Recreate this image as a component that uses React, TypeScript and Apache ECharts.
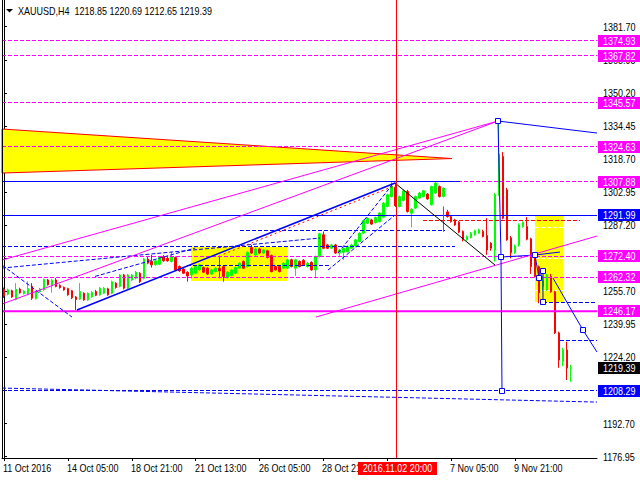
import React, { useEffect, useRef } from "react";
import * as echarts from "echarts";

// ---------- data ----------
const CATS = 149;
const openP = [1256.7,1254.3,1256.0,1251.8,1256.7,1254.6,1254.4,1258.0,1252.2,1255.5,1256.4,1261.1,1258.4,1261.1,1258.6,1257.6,1257.0,1256.0,1253.0,1252.0,1254.8,1251.6,1253.0,1255.6,1254.0,1254.8,1256.9,1254.8,1259.6,1258.0,1263.5,1257.2,1261.1,1261.9,1264.3,1261.9,1271.1,1269.9,1268.3,1268.6,1272.2,1271.4,1269.9,1271.8,1267.5,1266.3,1264.8,1263.5,1264.3,1265.9,1267.0,1266.7,1263.9,1265.1,1266.7,1267.5,1262.2,1263.2,1264.3,1266.7,1269.9,1267.5,1276.5,1273.0,1275.9,1273.9,1275.0,1272.7,1267.5,1267.5,1266.7,1266.7,1270.7,1266.7,1269.9,1270.5,1267.5,1269.5,1265.9,1272.2,1282.6,1277.8,1276.2,1277.8,1273.9,1274.3,1274.6,1276.2,1277.3,1279.4,1283.4,1288.1,1289.7,1288.4,1288.9,1291.0,1296.1,1300.8,1305.3,1296.1,1299.0,1303.2,1292.9,1295.3,1300.1,1300.8,1302.0,1296.9,1302.5,1305.6,1300.8,1293.5,1291.3,1289.7,1288.6,1284.2,1280.2,1281.3,1282.6,1283.4,1284.2,1282.3,1278.6,1275.4,1301.7,1319.9,1304.0,1281.2,1274.2,1277.8,1286.6,1286.6,1280.7,1273.0,1267.4,1258.0,1256.4,1262.7,1255.5,1235.9,1222.2,1227.8,1218.85];
const closeP = [1253.5,1256.4,1253.0,1256.7,1255.0,1255.8,1257.0,1252.4,1255.6,1256.8,1261.3,1258.8,1261.0,1258.0,1257.4,1256.4,1254.0,1252.6,1251.8,1255.6,1251.6,1254.8,1255.2,1253.8,1257.2,1257.2,1254.0,1260.3,1257.5,1263.5,1257.2,1263.5,1263.5,1264.8,1260.3,1271.1,1269.1,1268.3,1270.2,1271.8,1270.2,1270.2,1272.2,1265.9,1265.4,1264.3,1263.0,1266.7,1267.5,1268.3,1264.8,1263.9,1265.9,1266.7,1265.4,1262.7,1264.8,1265.9,1267.0,1269.1,1266.7,1274.3,1273.9,1275.9,1273.9,1275.4,1271.8,1265.1,1265.9,1265.1,1269.1,1270.7,1267.5,1270.7,1267.5,1268.3,1269.1,1265.9,1272.2,1283.1,1276.2,1276.2,1277.8,1273.9,1275.4,1276.2,1277.0,1277.8,1280.2,1283.4,1289.4,1290.5,1287.7,1290.8,1293.0,1297.7,1301.7,1305.6,1296.4,1300.8,1303.5,1293.7,1294.8,1300.8,1302.5,1303.6,1299.7,1305.6,1307.2,1300.8,1304.8,1291.3,1288.9,1287.3,1283.9,1280.2,1281.8,1283.4,1284.5,1285.0,1281.8,1275.4,1276.2,1301.7,1321.0,1290.5,1280.2,1274.1,1277.3,1287.3,1288.5,1280.5,1267.4,1262.7,1255.0,1261.0,1263.5,1255.5,1235.9,1223.0,1227.8,1219.2,1219.39];
const lowP = [1252.5,1253.8,1252.6,1251.4,1254.6,1254.2,1254.0,1251.6,1251.8,1255.0,1256.0,1258.4,1255.0,1257.6,1257.0,1256.0,1253.6,1252.0,1246.8,1251.6,1251.2,1251.2,1252.6,1253.4,1253.6,1254.4,1253.6,1254.4,1257.0,1257.6,1256.6,1256.8,1260.6,1261.4,1259.6,1261.4,1268.6,1267.0,1267.9,1268.2,1269.8,1269.8,1269.5,1265.4,1265.0,1263.9,1260.3,1261.9,1263.9,1265.5,1264.4,1263.5,1263.5,1264.7,1261.9,1260.3,1261.8,1262.8,1263.9,1266.3,1266.3,1267.1,1273.5,1272.6,1273.5,1273.5,1271.4,1264.7,1265.5,1264.7,1266.3,1266.3,1267.1,1263.0,1267.1,1267.8,1267.0,1265.5,1261.9,1271.8,1275.8,1275.8,1275.8,1273.5,1272.6,1270.7,1274.2,1275.8,1276.9,1279.0,1283.0,1287.7,1287.3,1288.0,1288.5,1290.6,1295.7,1300.4,1295.9,1295.7,1298.5,1293.2,1286.1,1294.9,1299.7,1300.4,1299.3,1296.5,1302.0,1300.4,1300.4,1290.8,1288.4,1286.9,1283.4,1279.5,1279.8,1280.9,1282.2,1283.0,1281.4,1273.1,1275.0,1269.9,1301.2,1290.0,1279.8,1271.4,1273.5,1277.0,1286.0,1280.0,1264.0,1262.2,1250.0,1256.0,1256.0,1255.0,1235.4,1219.3,1220.0,1213.5,1212.65];
const highP = [1257.5,1257.0,1256.5,1259.6,1257.4,1256.3,1260.5,1259.6,1256.0,1257.3,1261.8,1261.6,1261.6,1262.0,1259.0,1258.0,1257.4,1256.4,1253.4,1259.6,1255.2,1255.2,1255.8,1256.4,1257.8,1257.7,1257.4,1260.8,1260.0,1264.0,1264.0,1264.0,1264.0,1265.4,1264.8,1271.6,1272.0,1273.0,1270.7,1272.4,1273.0,1272.0,1274.5,1272.3,1268.0,1266.8,1265.2,1267.2,1268.0,1268.8,1267.5,1267.2,1266.4,1267.2,1272.7,1268.0,1265.3,1266.4,1267.5,1269.6,1270.4,1274.8,1277.8,1276.5,1276.4,1275.9,1275.5,1273.2,1268.0,1268.0,1269.6,1271.2,1271.2,1271.2,1270.4,1271.0,1269.6,1270.0,1272.7,1283.6,1284.2,1278.3,1278.3,1278.3,1275.9,1276.7,1277.5,1278.3,1280.7,1283.9,1289.9,1291.0,1290.2,1291.3,1293.5,1298.2,1302.2,1307.9,1307.5,1301.3,1304.2,1304.0,1295.3,1301.3,1303.0,1304.0,1302.5,1306.0,1307.7,1306.1,1305.2,1294.5,1291.8,1290.2,1289.1,1284.7,1282.3,1283.9,1285.0,1285.5,1285.0,1290.5,1279.1,1302.5,1337.0,1322.0,1305.0,1282.0,1278.0,1288.0,1289.0,1291.0,1281.2,1273.5,1268.0,1263.0,1264.0,1264.0,1256.0,1236.5,1228.8,1231.7,1220.69];

const xTickIdx = [0, 16, 32, 48, 64, 80, 96, 112, 128];
const xTickText = ["11 Oct 2016", "14 Oct 05:00", "18 Oct 21:00", "21 Oct 13:00", "26 Oct 05:00", "28 Oct 21:00", "2 Nov 13:00", "7 Nov 05:00", "9 Nov 21:00"];
const yTicks = [1176.95, 1192.7, 1208.45, 1224.2, 1239.95, 1255.7, 1271.45, 1287.2, 1302.95, 1318.7, 1334.45, 1350.2, 1365.95, 1381.7];
const Y_MIN = 1176.33;
const Y_MAX = 1394.42;

// horizontal levels
const magentaLevels = [1374.93, 1367.82, 1345.57, 1324.63, 1307.88, 1272.4, 1262.32];
const thickLevel = 1246.17;
const blueLevel = 1291.99;
const tagMagenta = [1374.93, 1367.82, 1345.57, 1324.63, 1307.88, 1272.4, 1262.32, 1246.17];
const tagBlue = [1291.99, 1208.29];

// drawings in (bar index, price)
const triangle = [[-0.5, 1332.98], [112.19, 1318.93], [-0.5, 1312.02]];
const magentaTrend = [[-0.5, 1270.59, 123.71, 1336.79], [-0.5, 1249.63, 123.71, 1336.79], [78.13, 1243.44, 148.5, 1282.02]];
const blueChannel = [18.28, 1246.78, 97.92, 1307.26];
const redDotted = [55, 1273.4, 97.9, 1306.0];
const blackTrend = [97.92, 1307.26, 122.96, 1268.21];
const blueSolidSegs = [[-0.5, 1307.88, 114.19, 1307.88], [123.71, 1336.79, 148.5, 1331.07], [124.46, 1272.02, 132.97, 1272.97], [132.97, 1272.97, 139.23, 1274.4]];
const bluePolyA = [[123.71, 1336.79], [124.46, 1272.02], [124.71, 1208.29]];
const bluePolyB = [[132.97, 1272.97], [133.97, 1262.02], [134.97, 1265.35], [134.97, 1250.58]];
const bluePolyC = [[137.48, 1262.02], [144.99, 1237.25], [148.5, 1226.77]];
const blueSquares = [[123.71, 1336.79], [124.46, 1272.02], [124.71, 1208.29], [132.97, 1272.97], [133.97, 1262.02], [134.97, 1265.35], [134.97, 1250.58], [144.99, 1237.25]];
const blueDashed = [
  [-0.5, 1268.21, 17.03, 1243.44],
  [-0.5, 1277.26, 112.94, 1277.26],
  [-0.5, 1266.78, 79.13, 1281.07],
  [22.8, 1262.8, 47.9, 1276.3],
  [59.1, 1284.88, 110.44, 1284.88],
  [45.83, 1268.21, 81.64, 1268.21],
  [81.14, 1265.83, 97.92, 1292.02],
  [83.64, 1273.92, 97.16, 1306.31],
  [134.97, 1250.58, 148.5, 1250.58],
  [139.23, 1232.49, 148.5, 1232.49],
  [-0.5, 1208.29, 148.5, 1208.29],
  [-0.5, 1209.63, 148.5, 1202.96],
];
const redDashed = [[104.93, 1289.45, 144.24, 1289.45]];
const magentaShort = [[109.94, 1296.12, 109.94, 1284.0]];
const yellowRects = [[46.83, 1276.78, 70.87, 1260.59], [132.97, 1292.02, 139.98, 1250.58]];
const whiteDashes = [[132.97, 1286.2, 139.98, 1286.2], [132.97, 1271.4, 139.98, 1271.4], [132.97, 1256.3, 139.98, 1256.3]];
const crossIdx = 98.17;
const crossText = "2016.11.02 20:00";
const titleText = "XAUUSD,H4  1218.85 1220.69 1212.65 1219.39";

const FONT = "'Liberation Sans', Arial, sans-serif";
const FS = 10;
const SX = 0.9;

export default function App() {
  const ref = useRef<HTMLDivElement>(null);
  useEffect(() => {
    const chart = echarts.init(ref.current!, null, { renderer: "svg" });
    const categories = Array.from({ length: CATS }, (_, i) => String(i));
    const labelMap: Record<number, string> = {};
    xTickIdx.forEach((k, j) => (labelMap[k] = xTickText[j]));
    const candles = openP.map((o, i) => [o, closeP[i], lowP[i], highP[i]]);

    chart.setOption({
      animation: false,
      backgroundColor: "#ffffff",
      grid: { left: 2, right: 43, top: 0, bottom: 22 },
      xAxis: [
        {
          type: "category",
          data: categories,
          boundaryGap: true,
          axisLine: { lineStyle: { color: "#000", width: 1 } },
          axisTick: { show: true, alignWithLabel: true, interval: (i: number) => i in labelMap, length: 3, lineStyle: { color: "#000" } },
          axisLabel: { show: false },
          splitLine: { show: false },
        },
        { type: "value", min: -0.5, max: CATS - 0.5, show: false },
      ],
      yAxis: {
        type: "value",
        position: "right",
        min: Y_MIN,
        max: Y_MAX,
        axisLine: { show: true, lineStyle: { color: "#000" } },
        axisTick: { show: true, customValues: yTicks, length: 3, lineStyle: { color: "#000" } },
        axisLabel: { show: false },
        splitLine: { show: false },
      },
      series: [
        {
          type: "candlestick",
          xAxisIndex: 0,
          yAxisIndex: 0,
          data: candles,
          barWidth: 2,
          z: 3,
          itemStyle: { color: "#00ff00", color0: "#ff0000", borderColor: "#00ff00", borderColor0: "#ff0000", borderWidth: 1 },
        },
      ],
    });

    const P = (i: number, p: number) => chart.convertToPixel({ xAxisIndex: 1, yAxisIndex: 0 } as any, [i, p]) as number[];
    const snap = (v: number) => Math.floor(v) + 0.5;
    const g: any[] = [];
    const txt = (x: number, y: number, text: string, fill: string, z: number, align = "left") =>
      g.push({ type: "text", z, silent: true, x, y, scaleX: SX, style: { text, fill, font: `${FS}px ${FONT}`, align, verticalAlign: "middle" } });
    const seg = (a: number[], color: string, width: number, dash: number[] | null, z: number) => {
      const p1 = P(a[0], a[1]);
      const p2 = P(a[2], a[3]);
      let y1 = p1[1], y2 = p2[1], x1 = p1[0], x2 = p2[0];
      if (Math.abs(y1 - y2) < 0.01 && width % 2 === 1) { y1 = snap(y1); y2 = y1; }
      if (Math.abs(x1 - x2) < 0.01) { x1 = snap(x1); x2 = x1; }
      g.push({ type: "line", z, silent: true, shape: { x1, y1, x2, y2 }, style: { stroke: color, lineWidth: width, lineDash: dash || undefined } });
    };
    const L = P(-0.5, 0)[0];
    const R = P(CATS - 0.5, 0)[0];
    const B = P(0, Y_MIN)[1];

    // backgrounds: triangle and rectangles
    g.push({ type: "polygon", z: 1, silent: true, shape: { points: triangle.map((t) => P(t[0], t[1])) }, style: { fill: "#ffff00", stroke: "#ff0000", lineWidth: 1 } });
    yellowRects.forEach((r) => {
      const a = P(r[0], r[1]);
      const b = P(r[2], r[3]);
      g.push({ type: "rect", z: 1, silent: true, shape: { x: Math.round(a[0]), y: Math.round(a[1]), width: Math.round(b[0] - a[0]), height: Math.round(b[1] - a[1]) }, style: { fill: "#ffff00" } });
    });
    whiteDashes.forEach((s) => seg(s, "#ffffff", 1, [4, 2], 2));

    // horizontal levels and trend lines
    magentaLevels.forEach((p) => seg([-0.5, p, CATS - 0.5, p], "#ff00ff", 1, [4, 2], 5));
    seg([-0.5, thickLevel, CATS - 0.5, thickLevel], "#ff00ff", 2, null, 5);
    seg([-0.5, blueLevel, CATS - 0.5, blueLevel], "#0000ff", 1, null, 5);
    blueSolidSegs.forEach((s) => seg(s, "#0000ff", 1, null, 5));
    blueDashed.forEach((s) => seg(s, "#0000ff", 1, [4, 2], 5));
    redDashed.forEach((s) => seg(s, "#ff0000", 1, [4, 2], 5));
    magentaShort.forEach((s) => seg(s, "#ff00ff", 1, null, 5));
    magentaTrend.forEach((s) => seg(s, "#ff00ff", 1, null, 5));
    seg(blueChannel, "#0000ff", 1.5, null, 5);
    seg(redDotted, "#ff0000", 1, [2, 3], 5);
    seg(blackTrend, "#000000", 1, null, 5);
    [bluePolyA, bluePolyB, bluePolyC].forEach((pl) =>
      g.push({ type: "polyline", z: 5, silent: true, shape: { points: pl.map((t) => P(t[0], t[1])) }, style: { stroke: "#0000ff", lineWidth: 1, fill: null } })
    );
    blueSquares.forEach((t) => {
      const c = P(t[0], t[1]);
      g.push({ type: "rect", z: 6, silent: true, shape: { x: Math.round(c[0]) - 2.5, y: Math.round(c[1]) - 2.5, width: 5, height: 5 }, style: { fill: "#ffffff", stroke: "#0000ff", lineWidth: 1 } });
    });

    // crosshair
    const cx = snap(P(crossIdx, 0)[0]);
    g.push({ type: "line", z: 6, silent: true, shape: { x1: cx, y1: 0, x2: cx, y2: B }, style: { stroke: "#ff0000", lineWidth: 1 } });

    // left border
    g.push({ type: "line", z: 6, silent: true, shape: { x1: snap(L), y1: 0, x2: snap(L), y2: B }, style: { stroke: "#000", lineWidth: 1 } });

    // axis labels
    xTickIdx.forEach((k, j) => txt(Math.round(P(k, 0)[0]) - 1, B + 10.5, xTickText[j], "#000", 10));
    g.push({ type: "rect", z: 20, silent: true, shape: { x: Math.round(cx) - 39, y: B + 4, width: 79, height: 13 }, style: { fill: "#ff0000" } });
    txt(Math.round(cx) + 0.5, B + 10.5, crossText, "#ffffff", 21, "center");
    yTicks.forEach((v) => txt(Math.round(R) + 6, Math.round(P(0, v)[1]) + 0.5, v.toFixed(2), "#000", 10));

    // price tags
    const tag = (p: number, fill: string) => {
      const y = Math.round(P(0, p)[1]);
      g.push({ type: "rect", z: 20, silent: true, shape: { x: Math.round(R) + 1, y: y - 6, width: 43, height: 12 }, style: { fill } });
      txt(Math.round(R) + 6, y + 0.5, p.toFixed(2), "#ffffff", 21);
    };
    tagMagenta.forEach((p) => tag(p, "#ff00ff"));
    tagBlue.forEach((p) => tag(p, "#0000ff"));
    tag(closeP[closeP.length - 1], "#000000");

    // title
    g.push({ type: "polygon", z: 21, silent: true, shape: { points: [[6, 9], [13, 9], [9.5, 12.5]] }, style: { fill: "#000" } });
    txt(18, 11, titleText, "#000", 21);

    chart.setOption({ graphic: { elements: g } });
    return () => chart.dispose();
  }, []);
  return <div ref={ref} style={{ position: "fixed", left: 0, top: 0, width: 640, height: 480 }} />;
}
